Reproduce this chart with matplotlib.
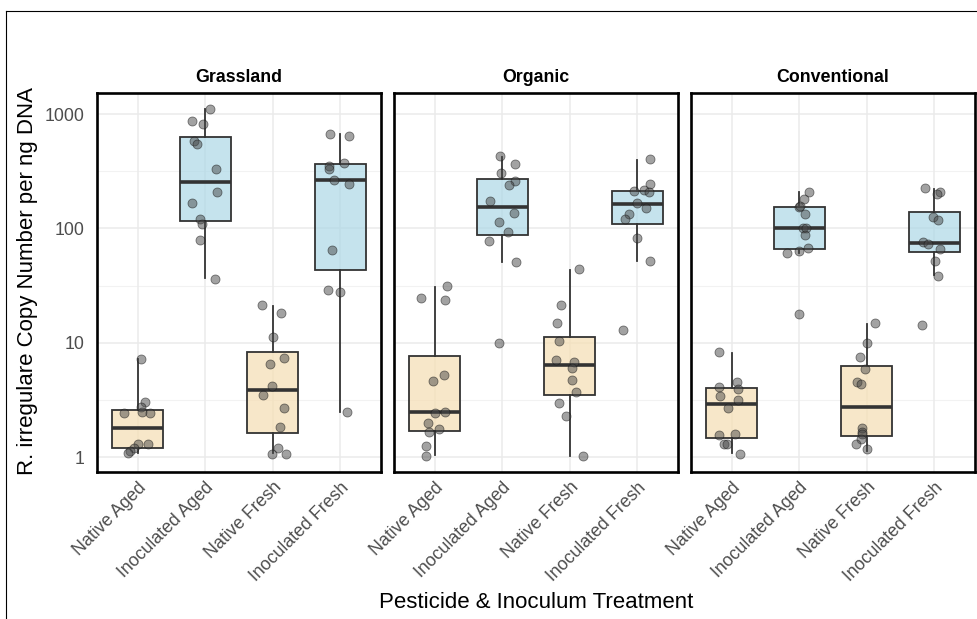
import numpy as np
import matplotlib.pyplot as plt
from matplotlib.lines import Line2D

plt.rcParams['font.family'] = ['Liberation Sans', 'DejaVu Sans']

# categories and facets
treatments = ['Native Aged', 'Inoculated Aged', 'Native Fresh', 'Inoculated Fresh']
facets = ['Grassland', 'Organic', 'Conventional']

# ---- Grassland ----
grass_vals = [
    [7.2, 3.05, 2.75, 2.44, 2.49, 2.44, 1.29, 1.29, 1.19, 1.13, 1.09],
    [1109, 870, 815, 585, 551, 329, 207, 166, 120, 109, 80, 36],
    [21.4, 18.2, 11.3, 6.55, 7.39, 4.2, 3.49, 2.7, 1.82, 1.19, 1.06, 1.06],
    [670, 647, 352, 331, 376, 263, 243, 65, 28.7, 28, 2.48],
]
grass_dx = [
    [0.05, 0.11, 0.05, -0.195, 0.06, 0.185, 0.0, 0.16, -0.06, -0.11, -0.14],
    [0.07, -0.19, -0.03, -0.17, -0.12, 0.16, 0.17, -0.19, -0.07, -0.05, -0.07, 0.14],
    [-0.16, 0.12, 0.0, -0.04, 0.17, -0.015, -0.15, 0.17, 0.1, 0.08, -0.015, 0.2],
    [-0.155, 0.13, -0.165, -0.165, 0.06, -0.1, 0.13, -0.12, -0.19, 0.0, 0.1],
]
grass_lo = [1.08, 36.6, 1.08, 2.49]
grass_q1 = [1.21, 116, 1.61, 43.3]
grass_med = [1.78, 256, 3.86, 265]
grass_q3 = [2.58, 634, 8.34, 366]
grass_hi = [7.2, 1109, 21, 666]

# ---- Organic ----
org_vals = [
    [31.1, 24.4, 23.6, 4.65, 5.2, 2.44, 2.49, 1.97, 1.67, 1.75, 1.25, 1.03],
    [433, 364, 308, 260, 240, 173, 137, 113, 93.5, 77.6, 50.5, 10],
    [43.9, 21.4, 14.9, 10.3, 7.1, 6.74, 5.97, 4.69, 3.73, 3.0, 2.28, 1.02],
    [404, 243, 214, 217, 207, 167, 152, 134, 121, 82, 51.5, 12.8],
]
org_dx = [
    [0.19, -0.205, 0.16, -0.02, 0.14, 0.0, 0.16, -0.1, -0.08, 0.06, -0.13, -0.12],
    [-0.035, 0.195, -0.015, 0.185, 0.1, -0.175, 0.175, -0.045, 0.09, -0.19, 0.2, -0.05],
    [0.14, -0.13, -0.195, -0.16, -0.2, 0.055, 0.03, 0.025, 0.09, -0.16, -0.05, 0.19],
    [0.185, 0.18, -0.045, 0.1, 0.17, 0.0, 0.12, -0.12, -0.185, -0.01, 0.18, -0.21],
]
org_lo = [1.04, 51, 1.03, 52]
org_q1 = [1.7, 88, 3.49, 109]
org_med = [2.46, 154, 6.38, 162]
org_q3 = [7.65, 271, 11.3, 212]
org_hi = [30.7, 424, 43, 397]

# ---- Conventional ----
conv_vals = [
    [8.29, 4.56, 4.1, 3.96, 3.42, 3.15, 2.7, 1.57, 1.58, 1.31, 1.29, 1.07],
    [210, 180, 154, 156, 134, 100, 100, 87.5, 67.4, 63.8, 60.6, 17.8],
    [15, 10, 7.55, 5.93, 4.5, 4.33, 1.81, 1.67, 1.6, 1.43, 1.31, 1.17],
    [224, 207, 201, 125, 119, 76, 72.6, 66, 51.9, 38.6, 14.2],
]
conv_dx = [
    [-0.19, 0.08, -0.18, 0.1, -0.165, 0.09, -0.055, -0.19, 0.045, -0.11, -0.065, 0.13],
    [0.15, 0.07, 0.0, 0.015, 0.08, 0.06, 0.1, 0.08, 0.13, 0.0, -0.175, 0.0],
    [0.115, 0.0, -0.095, -0.02, -0.15, -0.08, -0.065, -0.065, -0.07, -0.08, -0.165, 0.0],
    [-0.145, 0.075, 0.04, -0.015, 0.05, -0.17, -0.1, 0.08, 0.015, 0.06, -0.19],
]
conv_lo = [1.08, 60.6, 1.13, 39]
conv_q1 = [1.47, 65.6, 1.54, 61.8]
conv_med = [2.89, 100, 2.75, 75]
conv_q3 = [4.04, 153, 6.3, 140]
conv_hi = [8.18, 207, 14.7, 220]

box_colors = ['#F5DEB3', '#ADD8E6', '#F5DEB3', '#ADD8E6']

panel_data = [
    (grass_vals, grass_dx, grass_lo, grass_q1, grass_med, grass_q3, grass_hi),
    (org_vals, org_dx, org_lo, org_q1, org_med, org_q3, org_hi),
    (conv_vals, conv_dx, conv_lo, conv_q1, conv_med, conv_q3, conv_hi),
]

W, H = 977, 619
fig = plt.figure(figsize=(W / 100, H / 100), dpi=100)

# outer frame (top and left lines of the original screenshot)
fig.add_artist(Line2D([6 / W, 1], [1 - 11 / H, 1 - 11 / H], color='black', lw=0.8))
fig.add_artist(Line2D([6 / W, 6 / W], [0, 1 - 11 / H], color='black', lw=0.8))

panel_left = [97, 394, 691]
panel_w = 284
top, bottom = 93, 472

for p, (name, data) in enumerate(zip(facets, panel_data)):
    vals, dx, lo, q1, med, q3, hi = data
    ax = fig.add_axes([panel_left[p] / W, (H - bottom) / H, panel_w / W, (bottom - top) / H])
    ax.set_yscale('log')
    ax.set_ylim(0.74, 1531)
    ax.set_xlim(0.4, 4.6)

    # grid
    for yv in [1, 10, 100, 1000]:
        ax.axhline(yv, color='#ebebeb', lw=1.1, zorder=0)
    for yv in [10 ** 0.5, 10 ** 1.5, 10 ** 2.5]:
        ax.axhline(yv, color='#f2f2f2', lw=0.8, zorder=0)
    for xv in range(1, 5):
        ax.axvline(xv, color='#ebebeb', lw=1.1, zorder=0)

    stats = []
    for i in range(4):
        stats.append(dict(whislo=lo[i], q1=q1[i], med=med[i], q3=q3[i], whishi=hi[i], fliers=[]))
    bp = ax.bxp(stats, positions=range(1, 5), widths=0.75, showcaps=False,
                patch_artist=True, showfliers=False,
                boxprops=dict(edgecolor='#333333', linewidth=1.3),
                whiskerprops=dict(color='#333333', linewidth=1.3),
                medianprops=dict(color='#333333', linewidth=2.6, solid_capstyle='butt'))
    for patch, c in zip(bp['boxes'], box_colors):
        r, g, b = [int(c[k:k + 2], 16) / 255 for k in (1, 3, 5)]
        patch.set_facecolor((r, g, b, 0.7))
        patch.set_edgecolor('#333333')

    for i in range(4):
        xs = [i + 1 + d for d in dx[i]]
        ax.scatter(xs, vals[i], s=42, facecolor=(0.28, 0.28, 0.28, 0.5),
                   edgecolor=(0.1, 0.1, 0.1, 0.55), linewidth=0.6, zorder=5)

    for sp in ax.spines.values():
        sp.set_linewidth(1.9)
        sp.set_color('black')

    ax.set_xticks(range(1, 5))
    ax.set_xticklabels(treatments, rotation=45, ha='right', rotation_mode='anchor',
                       fontsize=12.8, color='#4d4d4d')
    ax.tick_params(axis='both', length=0)
    ax.tick_params(axis='x', pad=5)
    ax.tick_params(axis='y', pad=9)
    ax.minorticks_off()
    ax.set_yticks([1, 10, 100, 1000])
    if p == 0:
        ax.set_yticklabels(['1', '10', '100', '1000'], fontsize=12.8, color='#4d4d4d')
    else:
        ax.set_yticklabels([])
    ax.set_title(name, fontsize=12.8, fontweight='bold', pad=8)

fig.text(28 / W, 1 - 281 / H, 'R. irregulare Copy Number per ng DNA', rotation=90,
         ha='center', va='center', fontsize=16)
fig.text(536 / W, 1 - 603 / H, 'Pesticide & Inoculum Treatment', ha='center', va='center',
         fontsize=16)

fig.savefig('out.png', dpi=100)
